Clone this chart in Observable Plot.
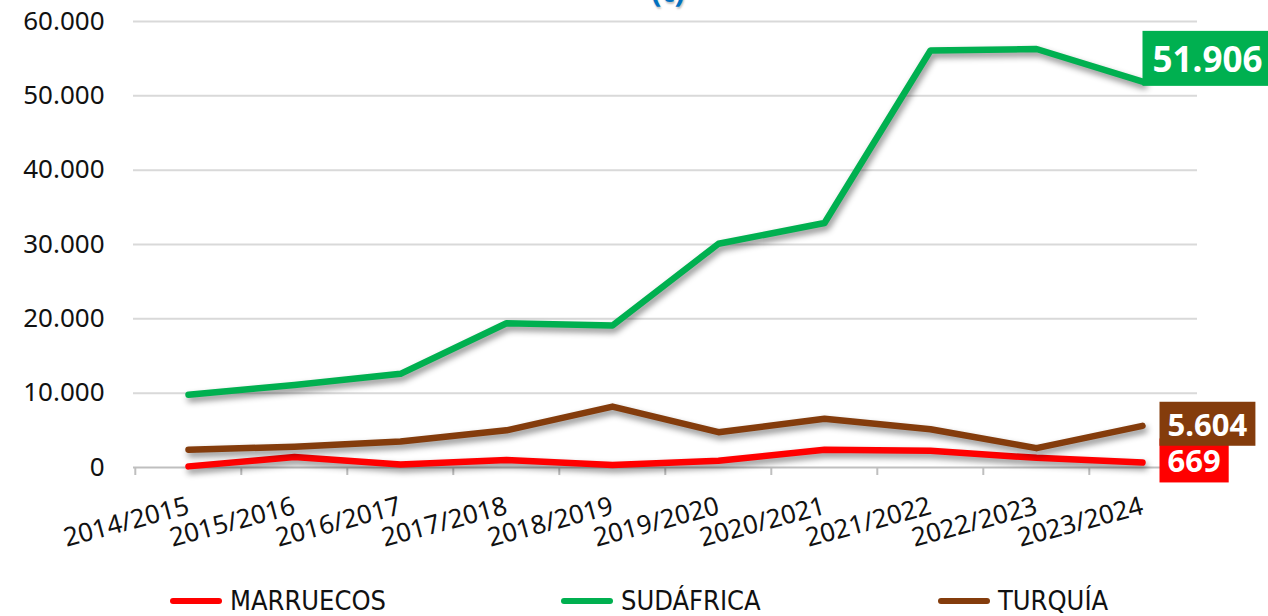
<!DOCTYPE html>
<html>
<head>
<meta charset="utf-8">
<script src="https://cdn.jsdelivr.net/npm/d3@7"></script>
<script src="https://cdn.jsdelivr.net/npm/@observablehq/plot@0.6"></script>
<style>
  html, body { margin: 0; padding: 0; background: #fff; }
  body { width: 1268px; height: 616px; overflow: hidden; position: relative; font-family: "Noto Sans", sans-serif; }
  #title { position: absolute; left: 568px; width: 200px; top: -27px; text-align: center; color: #0070C0; font-weight: bold; font-size: 30px; line-height: 36px; text-shadow: 1px 2px 2px rgba(0,0,0,0.25); }
  #chart { position: absolute; left: 0; top: 0; }
  #legend { position: absolute; left: 0; top: 570px; width: 1268px; height: 46px; }
  .item { position: absolute; top: 15px; display: flex; align-items: center; white-space: nowrap; }
  .sw { display: inline-block; width: 52px; height: 6px; border-radius: 3px; margin-right: 8px; }
  .lbl { font-family: "DejaVu Sans Condensed", "DejaVu Sans", sans-serif; font-stretch: condensed; font-size: 27px; color: #111; line-height: 32px; }
  #chart g.serie-lines path { filter: drop-shadow(2px 4px 3px rgba(0,0,0,0.45)); }
</style>
</head>
<body>
<div id="title">(t)</div>
<div id="chart"></div>
<div id="legend"></div>
<script>
// ---- data ----
const categories = ["2014/2015","2015/2016","2016/2017","2017/2018","2018/2019","2019/2020","2020/2021","2021/2022","2022/2023","2023/2024"];
const seriesNames = ["MARRUECOS","SUDÁFRICA","TURQUÍA"];
const seriesColors = ["#FF0000","#00B050","#843C0C"];
const marruecos = [150, 1400, 400, 1000, 350, 900, 2400, 2250, 1300, 669];
const sudafrica = [9800, 11100, 12600, 19400, 19100, 30100, 32900, 56100, 56300, 51906];
const turquia  = [2400, 2800, 3500, 5000, 8200, 4750, 6550, 5150, 2600, 5604];
const yTicks = [0, 10000, 20000, 30000, 40000, 50000, 60000];

const seriesValues = [marruecos, sudafrica, turquia];
const rows = [];
seriesNames.forEach((s, i) => categories.forEach((c, j) => rows.push({cat: c, value: seriesValues[i][j], serie: s})));

const loc = d3.formatLocale({decimal: ",", thousands: ".", grouping: [3], currency: ["", ""]});
const fmt = loc.format(",.0f");

const W = 1268, H = 570, ML = 133, MR = 71, MT = 21, MB = 103;
const step = (W - ML - MR) / categories.length;

const lastRows = seriesNames.map(s => rows.filter(r => r.serie === s).at(-1));

const labelMarks = seriesNames.map((s, i) => Plot.text([lastRows[i]], {
  x: "cat", y: "value", text: d => fmt(d.value),
  fill: "white", fontWeight: "bold", fontSize: s === "SUDÁFRICA" ? 35 : 31, textAnchor: "start",
  dx: s === "SUDÁFRICA" ? 10 : 25, dy: s === "SUDÁFRICA" ? -21 : 0,
  className: "endlabel-" + i
}));

const chart = Plot.plot({
  width: W, height: H,
  marginLeft: ML, marginRight: MR, marginTop: MT, marginBottom: MB,
  style: {fontFamily: "Noto Sans, sans-serif", fontSize: "26px", color: "#111", overflow: "visible", background: "transparent"},
  x: {type: "point", domain: categories, padding: 0.5, label: null},
  y: {domain: [0, 60000], label: null},
  color: {domain: seriesNames, range: seriesColors},
  marks: [
    Plot.gridY({ticks: yTicks.filter(t => t > 0), stroke: "#d9d9d9", strokeOpacity: 1, strokeWidth: 2}),
    Plot.ruleY([0], {stroke: "#bfbfbf", strokeWidth: 2}),
    Plot.ruleX(categories, {x: d => d, dx: -step / 2, y1: 0, y2: -1080, stroke: "#bfbfbf", strokeWidth: 2}),
    Plot.ruleX([categories.at(-1)], {x: d => d, dx: step / 2, y1: 0, y2: -1080, stroke: "#bfbfbf", strokeWidth: 2}),
    Plot.axisY({ticks: yTicks, tickFormat: fmt, tickSize: 0, tickPadding: 29, fontSize: 26, label: null}),
    Plot.axisX({tickRotate: -15, tickSize: 0, tickPadding: 38, fontSize: 26, label: null}),
    Plot.line(rows, {x: "cat", y: "value", z: "serie", stroke: "serie", strokeWidth: 6.5, strokeLinejoin: "round", strokeLinecap: "round", className: "serie-lines"}),
    ...labelMarks
  ]
});
document.getElementById("chart").appendChild(chart);

// background boxes behind end labels
seriesNames.forEach((s, i) => {
  d3.select(chart).selectAll(`g.endlabel-${i} text`).each(function () {
    const b = this.getBBox();
    const padX = s === "SUDÁFRICA" ? 10 : 8, padY = s === "SUDÁFRICA" ? 4 : 1;
    const t = this.getAttribute("transform");
    d3.select(this.parentNode).insert("rect", () => this)
      .attr("transform", t)
      .attr("x", b.x - padX).attr("y", b.y - padY)
      .attr("width", b.width + 2 * padX).attr("height", b.height + 2 * padY)
      .attr("fill", seriesColors[i]);
  });
});

// legend
const legendLeft = [170, 561, 938];
const lg = document.getElementById("legend");
seriesNames.forEach((s, i) => {
  const it = document.createElement("div");
  it.className = "item";
  it.style.left = legendLeft[i] + "px";
  it.innerHTML = `<span class="sw" style="background:${seriesColors[i]}"></span><span class="lbl">${s}</span>`;
  lg.appendChild(it);
});
</script>
</body>
</html>
